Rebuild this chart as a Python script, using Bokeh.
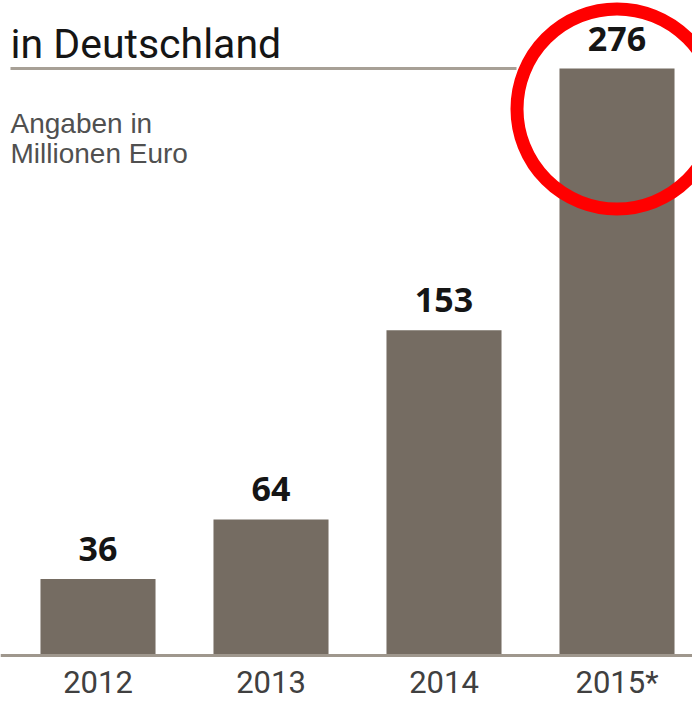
from bokeh.plotting import figure
from bokeh.models import Range1d, FixedTicker, Label, BoxAnnotation, LinearAxis
from bokeh.core.properties import value
from bokeh.embed import file_html
from bokeh.resources import INLINE

# ---- data ----
years = ["2012", "2013", "2014", "2015*"]
amounts = [36, 64, 153, 276]
value_labels = ["36", "64", "153", "276"]
title_text = "in Deutschland"
subtitle_lines = ["Angaben in", "Millionen Euro"]
highlight_year = "2015*"

xs = list(range(len(years)))
hi = years.index(highlight_year)

# ---- styles ----
BAR_COLOR = "#756c62"
LINE_COLOR = "#9f978d"

W, H = 692, 702
p = figure(width=W, height=H, output_backend="svg", toolbar_location=None,
           x_range=Range1d(-0.5636, 3.4364), y_range=Range1d(-22.1, 308.0),
           min_border_left=0, min_border_right=0, min_border_top=0, min_border_bottom=0,
           x_axis_location=None, y_axis_location=None)
p.grid.visible = False
p.outline_line_color = None
p.background_fill_color = "white"
p.border_fill_color = "white"

# bars
p.vbar(x=xs, top=amounts, bottom=0, width=0.665, fill_color=BAR_COLOR, line_color=None)

# value labels
p.text(x=xs, y=amounts, text=value_labels, text_align="center", text_baseline="alphabetic",
       y_offset=-30, text_font=value("Open Sans"), text_font_style="bold",
       text_font_size="34px", text_color="#151515")

# red highlight ring around the 2015 bar top
p.circle(x=[xs[hi]], y=[amounts[hi] - 19], radius=100, radius_units="screen",
         fill_color=None, line_color="#ff0000", line_width=13)

# x axis at zero
ax = LinearAxis(fixed_location=0, ticker=FixedTicker(ticks=xs),
                major_label_overrides={i: y for i, y in zip(xs, years)})
ax.axis_line_color = LINE_COLOR
ax.axis_line_width = 3
ax.major_tick_line_color = None
ax.minor_tick_line_color = None
ax.major_tick_out = 0
ax.major_tick_in = 0
ax.major_label_standoff = 8
ax.major_label_text_font = "Roboto"
ax.major_label_text_font_size = "31px"
ax.major_label_text_color = "#404040"
p.add_layout(ax, "below")

# title & subtitle
p.add_layout(Label(x=10, y=658.5, x_units="screen", y_units="screen", text=title_text,
                   text_font="Roboto", text_font_size="41px", text_color="#151515",
                   text_baseline="alphabetic"))
p.add_layout(Label(x=10, y=579, x_units="screen", y_units="screen", text=subtitle_lines[0],
                   text_font="Liberation Sans", text_font_size="28px", text_color="#505050",
                   text_baseline="alphabetic"))
p.add_layout(Label(x=10, y=549, x_units="screen", y_units="screen", text=subtitle_lines[1],
                   text_font="Liberation Sans", text_font_size="28px", text_color="#505050",
                   text_baseline="alphabetic"))

# rule under title
p.add_layout(BoxAnnotation(left=10, right=516, bottom=632.5, top=635.5,
                           left_units="screen", right_units="screen",
                           bottom_units="screen", top_units="screen",
                           fill_color="#a7a096", fill_alpha=1, line_color=None))

open("out.html", "w").write(file_html(p, INLINE))
